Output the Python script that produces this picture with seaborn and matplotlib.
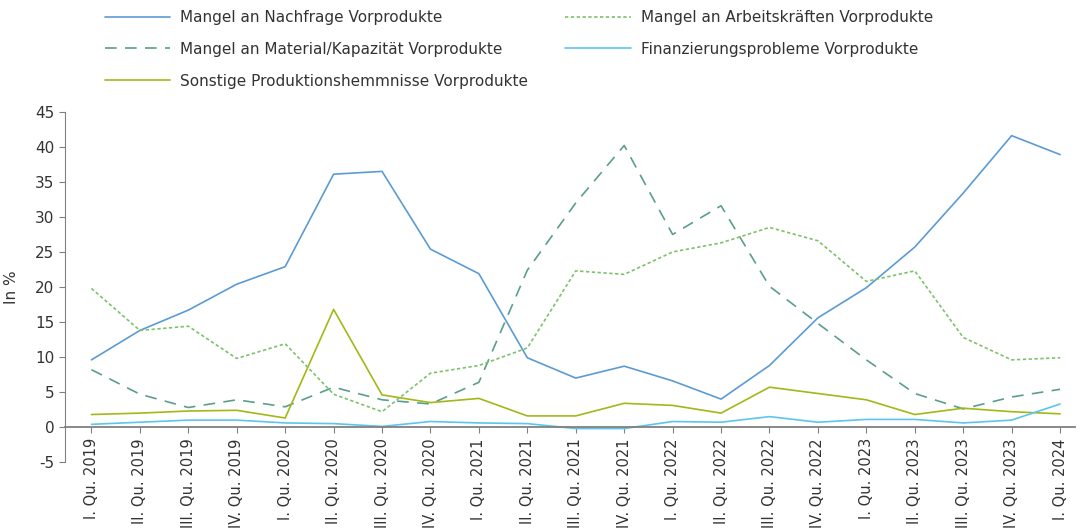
import pandas as pd
import matplotlib.pyplot as plt
import seaborn as sns

quarters = ["I. Qu. 2019", "II. Qu. 2019", "III. Qu. 2019", "IV. Qu. 2019",
            "I. Qu. 2020", "II. Qu. 2020", "III. Qu. 2020", "IV. Qu. 2020",
            "I. Qu. 2021", "II. Qu. 2021", "III. Qu. 2021", "IV. Qu. 2021",
            "I. Qu. 2022", "II. Qu. 2022", "III. Qu. 2022", "IV. Qu. 2022",
            "I. Qu. 2023", "II. Qu. 2023", "III. Qu. 2023", "IV. Qu. 2023",
            "I. Qu. 2024"]

nachfrage = [9.6, 13.8, 16.7, 20.4, 22.9, 36.1, 36.5, 25.4, 21.9, 9.9, 7.0,
             8.7, 6.6, 4.0, 8.8, 15.6, 19.9, 25.7, 33.4, 41.6, 38.9]
arbeitskraefte = [19.8, 13.8, 14.4, 9.8, 11.9, 4.7, 2.2, 7.7, 8.8, 11.3,
                  22.3, 21.8, 25.0, 26.3, 28.5, 26.6, 20.8, 22.3, 12.8, 9.6,
                  9.9]
material = [8.2, 4.7, 2.8, 3.9, 2.9, 5.7, 3.9, 3.3, 6.4, 22.4, 32.0, 40.2,
            27.5, 31.6, 20.1, 14.8, 9.6, 4.8, 2.6, 4.3, 5.4]
finanzierung = [0.4, 0.7, 1.0, 1.0, 0.6, 0.5, 0.1, 0.8, 0.6, 0.5, -0.2, -0.2,
                0.8, 0.7, 1.5, 0.7, 1.1, 1.1, 0.6, 1.0, 3.3]
sonstige = [1.8, 2.0, 2.3, 2.4, 1.3, 16.8, 4.6, 3.5, 4.1, 1.6, 1.6, 3.4, 3.1,
            2.0, 5.7, 4.8, 3.9, 1.8, 2.7, 2.2, 1.9]

# order chosen so the 2-column legend fills like the original
series = [
    ("Mangel an Nachfrage Vorprodukte", nachfrage, "#5b9bd5", None),
    ("Mangel an Material/Kapazität Vorprodukte", material, "#5a9e8c", (7, 5)),
    ("Sonstige Produktionshemmnisse Vorprodukte", sonstige, "#a3b816", None),
    ("Mangel an Arbeitskräften Vorprodukte", arbeitskraefte, "#7cc26a",
     (2, 1.5)),
    ("Finanzierungsprobleme Vorprodukte", finanzierung, "#5cc5ee", None),
]

sns.set_style("white")
plt.rcParams["font.family"] = ["DejaVu Sans"]
plt.rcParams["axes.unicode_minus"] = False

fig = plt.figure(figsize=(10.8, 5.3), dpi=100)
ax = fig.add_axes([0.060, 0.128, 0.935, 0.661])

x = list(range(len(quarters)))
for name, vals, col, dash in series:
    df = pd.DataFrame({"q": x, "v": vals})
    sns.lineplot(data=df, x="q", y="v", ax=ax, color=col, linewidth=1.2,
                 label=name)
    if dash is not None:
        ax.lines[-1].set_dashes(dash)

for s in ["top", "right"]:
    ax.spines[s].set_visible(False)
ax.spines["bottom"].set_position(("data", 0))
ax.spines["left"].set_color("#808080")
ax.spines["bottom"].set_color("#808080")
ax.spines["bottom"].set_linewidth(1.3)

ax.set_xlim(-0.55, 20.3)
ax.set_ylim(-5, 45)
ax.set_yticks(range(-5, 50, 5))
ax.tick_params(axis="y", labelsize=11, length=4, width=0.8, color="#808080",
               labelcolor="#333333", direction="out", left=True)
ax.set_xticks(x)
ax.set_xticklabels(quarters, rotation=90, va="top", ha="center")
ax.tick_params(axis="x", labelsize=10.5, length=4, width=0.8,
               color="#808080", pad=4, direction="out", bottom=True,
               labelcolor="#333333")

ax.set_xlabel("")
ax.set_ylabel("In %", fontsize=11, color="#333333")
ax.yaxis.set_label_coords(-0.045, 0.5)

ax.legend(ncol=2, loc="upper left", bbox_to_anchor=(0.026, 1.33),
          frameon=False, fontsize=11, handlelength=4.3, handletextpad=0.65,
          columnspacing=2.4, labelspacing=1.1, labelcolor="#333333")

fig.savefig("out.png", dpi=100)
